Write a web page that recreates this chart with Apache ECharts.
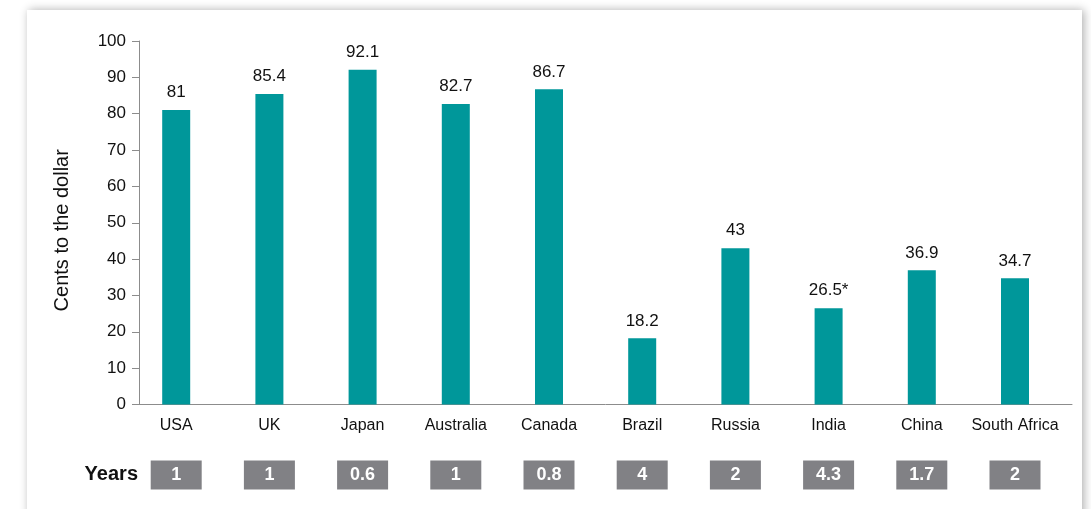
<!DOCTYPE html>
<html>
<head>
<meta charset="utf-8">
<script src="https://cdn.jsdelivr.net/npm/echarts@6/dist/echarts.min.js"></script>
<style>
  html, body { margin: 0; padding: 0; background: #ffffff; overflow: hidden; }
  body { width: 1091px; height: 509px; position: relative; }
  #card {
    position: absolute; left: 27px; top: 10px; width: 1055px; height: 560px;
    background: #ffffff;
    box-shadow: 2px 0 9px rgba(0, 0, 0, 0.32);
  }
  #chart { position: absolute; left: 0; top: 0; width: 1091px; height: 509px; }
</style>
</head>
<body>
<div id="card"></div>
<div id="chart"></div>
<script>
// Recovery rate by country, in cents to the dollar, and time to resolve (years)
const countries = ['USA', 'UK', 'Japan', 'Australia', 'Canada', 'Brazil', 'Russia', 'India', 'China', 'South Africa'];
const centsToDollar = [81, 85.4, 92.1, 82.7, 86.7, 18.2, 43, 26.5, 36.9, 34.7];
const footnoteMarks = ['', '', '', '', '', '', '', '*', '', ''];
const yearsToResolve = ['1', '1', '0.6', '1', '0.8', '4', '2', '4.3', '1.7', '2'];
const yTicks = { min: 0, max: 100, interval: 10 };

const FONT = '"Liberation Sans", Arial, Helvetica, sans-serif';
const AXIS_GREY = '#8c8c8c';
const TEAL = '#00979a';
const BOX_GREY = '#818185';

const chart = echarts.init(document.getElementById('chart'), null, { renderer: 'canvas' });

chart.setOption({
  animation: false,
  backgroundColor: 'transparent',
  textStyle: { fontFamily: FONT },
  grid: [
    { left: 129.6, right: 29.4, top: 41, bottom: 104.5 },
    { left: 139, right: 19, top: 41, bottom: 104.5 }
  ],
  xAxis: [
    {
      type: 'category', gridIndex: 0, data: countries,
      axisLine: { show: false }, axisTick: { show: false },
      axisLabel: { color: '#111', fontSize: 16, fontFamily: FONT, margin: 13, interval: 0 }
    },
    {
      // time-to-resolve row beneath the country names
      type: 'category', gridIndex: 0, position: 'bottom', data: yearsToResolve,
      axisLine: { show: false }, axisTick: { show: false },
      axisLabel: {
        interval: 0, margin: 56, color: '#ffffff', fontSize: 18, fontWeight: 'bold', fontFamily: FONT,
        backgroundColor: BOX_GREY, width: 51, height: 29, lineHeight: 29, align: 'center'
      }
    },
    {
      // baseline running from the value axis to the right end
      type: 'value', gridIndex: 1, min: 0, max: 1,
      axisLine: { show: true, lineStyle: { color: AXIS_GREY, width: 1 } },
      axisTick: { show: false }, axisLabel: { show: false }, splitLine: { show: false }
    }
  ],
  yAxis: [
    {
      type: 'value', gridIndex: 0, min: yTicks.min, max: yTicks.max, interval: yTicks.interval,
      offset: -9.4,
      name: 'Cents to the dollar', nameLocation: 'middle', nameGap: 67, nameRotate: 90,
      nameTextStyle: { color: '#111', fontSize: 20, fontFamily: FONT, padding: [0, 15, 0, 0] },
      axisLine: { show: true, lineStyle: { color: AXIS_GREY, width: 1 } },
      axisTick: { show: true, length: 7, lineStyle: { color: AXIS_GREY } },
      axisLabel: { color: '#111', fontSize: 17, fontFamily: FONT, margin: 13 },
      splitLine: { show: false }
    },
    {
      type: 'value', gridIndex: 1, min: 0, max: 1, show: false
    }
  ],
  graphic: [
    {
      type: 'text', right: 1091 - 138, top: 464,
      style: { text: 'Years', font: 'bold 20px ' + FONT, fill: '#111' }
    }
  ],
  series: [
    {
      type: 'bar', xAxisIndex: 0, yAxisIndex: 0, barWidth: 28,
      data: centsToDollar,
      itemStyle: { color: TEAL },
      label: {
        show: true, position: 'top', distance: 9, color: '#111', fontSize: 17, fontFamily: FONT,
        formatter: p => p.value + footnoteMarks[p.dataIndex]
      }
    }
  ]
});
</script>
</body>
</html>
